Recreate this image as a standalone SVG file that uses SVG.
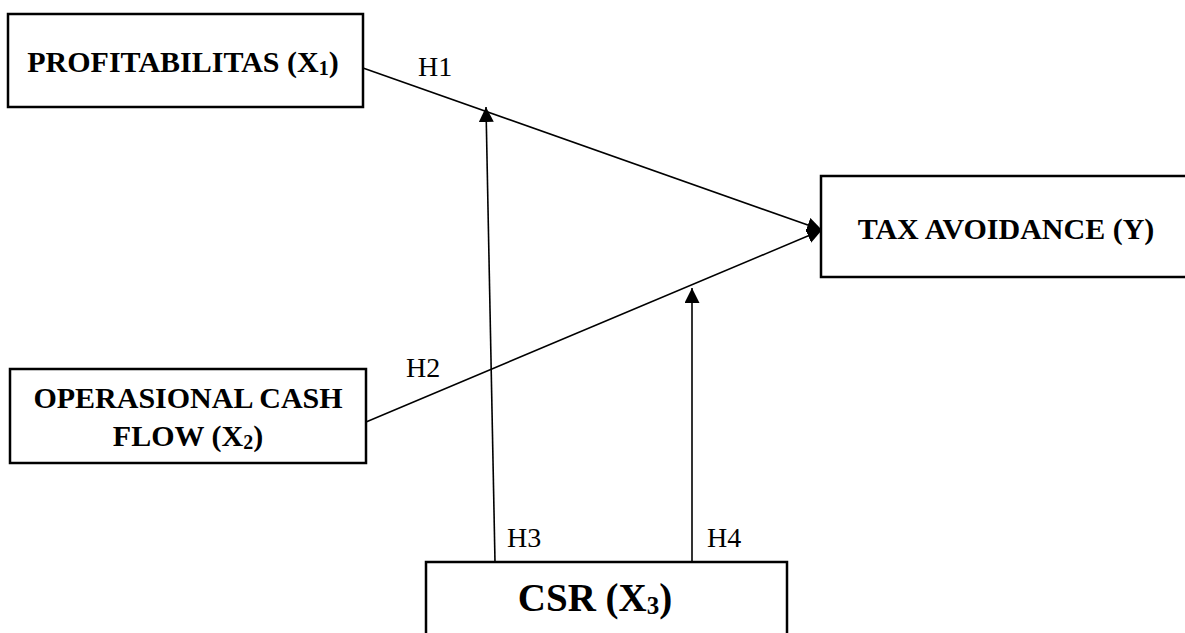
<svg xmlns="http://www.w3.org/2000/svg" width="1185" height="633" viewBox="0 0 1185 633">
<style>
.box{fill:#fff;stroke:#000;stroke-width:2.5}
.lbl{font-family:"Liberation Serif","Times New Roman",serif;font-weight:bold;font-size:30px;fill:#000;text-anchor:middle}
.big{font-size:39px}
.h{font-family:"Liberation Serif","Times New Roman",serif;font-size:28px;fill:#000}
.ln{stroke:#000;stroke-width:1.6;fill:none;marker-end:url(#ah)}
</style>
<defs>
<marker id="ah" markerUnits="userSpaceOnUse" markerWidth="16" markerHeight="16" refX="15" refY="7.5" orient="auto" viewBox="0 0 16 16">
<path d="M0,0 L15,7.5 L0,15 z" fill="#000"/>
</marker>
</defs>
<rect width="1185" height="633" fill="#fff"/>
<g id="connectors">
<line class="ln" x1="363" y1="68" x2="822" y2="230"/>
<line class="ln" x1="366" y1="422" x2="822" y2="230"/>
<line class="ln" x1="495" y1="562" x2="486" y2="107"/>
<line class="ln" x1="692" y1="562" x2="692" y2="288"/>
<text class="h" x="418" y="76">H1</text>
<text class="h" x="406" y="377">H2</text>
<text class="h" x="507" y="547">H3</text>
<text class="h" x="707" y="547">H4</text>
</g>
<g id="profitabilitas">
<rect class="box" x="8" y="14" width="355" height="93"/>
<text class="lbl" x="183" y="72">PROFITABILITAS (X<tspan style="font-size:20px" dy="3">1</tspan><tspan dy="-3">)</tspan></text>
</g>
<g id="tax-avoidance">
<rect class="box" x="821" y="176" width="371" height="101"/>
<text class="lbl" x="1006" y="239">TAX AVOIDANCE (Y)</text>
</g>
<g id="operasional-cash-flow">
<rect class="box" x="10" y="369" width="356" height="94"/>
<text class="lbl" x="188" y="408">OPERASIONAL CASH</text>
<text class="lbl" x="188" y="446">FLOW (X<tspan style="font-size:20px" dy="3">2</tspan><tspan dy="-3">)</tspan></text>
</g>
<g id="csr">
<rect class="box" x="426" y="562" width="361" height="90"/>
<text class="lbl big" x="595" y="611">CSR (X<tspan style="font-size:25px" dy="3">3</tspan><tspan dy="-3">)</tspan></text>
</g>
</svg>
